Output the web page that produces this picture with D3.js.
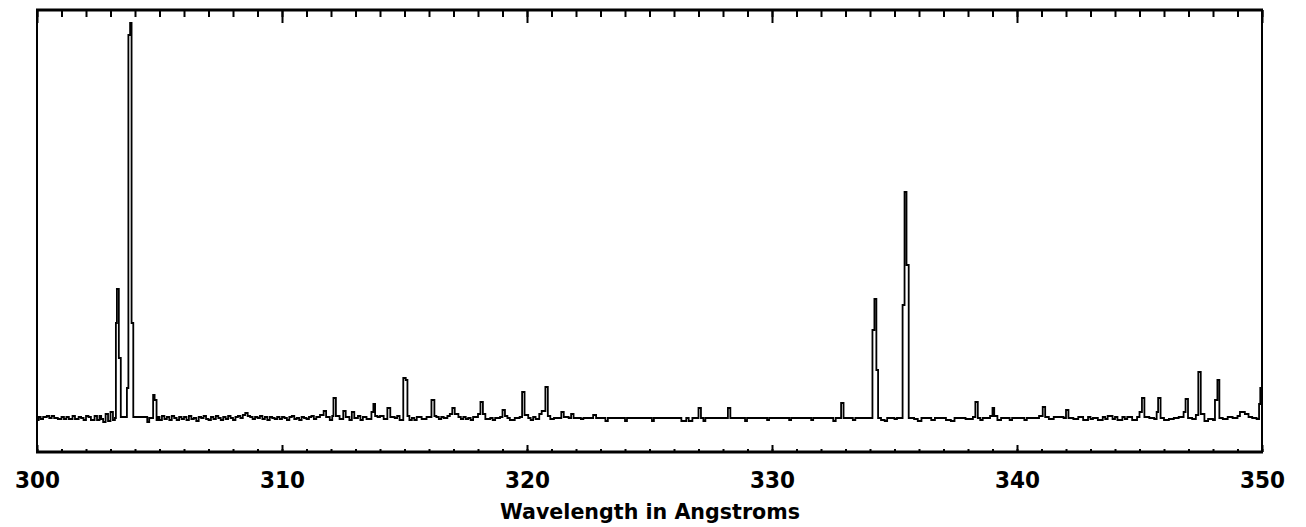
<!DOCTYPE html>
<html>
<head>
<meta charset="utf-8">
<script src="https://cdn.jsdelivr.net/npm/d3@7"></script>
<style>
  body { margin: 0; background: #fff; }
  svg { display: block; }
  .lbl text { font-family: "DejaVu Sans", sans-serif; font-weight: bold; fill: #000; }
</style>
</head>
<body>
<svg id="spectrum" width="1306" height="527"></svg>
<script>
// intensities in arbitrary units (step profile)
const spec300 = [
  [300.0,16],[300.07,17.5],[300.15,16.5],[300.25,17.5],[300.4,18],[300.5,17],[300.6,18],[300.7,17],[300.85,16.5],[301.0,17.5],
  [301.1,16.5],[301.2,17.5],[301.3,16.5],[301.45,18],[301.55,16.5],[301.7,17.5],[301.8,17],[301.9,16],[302.0,18],[302.1,17.5],[302.2,16],
  [302.35,18],[302.45,16],[302.55,18],[302.62,16.5],[302.7,15],[302.8,19],[302.9,15.5],[303.0,20],[303.1,16],[303.18,17],
  [303.22,64.5],[303.26,81.5],[303.34,47],[303.42,17.5],
  [303.67,32],[303.73,208.5],[303.8,214.5],[303.86,64.5],[303.93,17.5],
  [304.5,15],[304.58,17],[304.74,28.5],[304.8,26],[304.88,16],[304.95,17.5]
];
const spec305 = [
  [305.0,16],[305.1,18],[305.2,16.5],[305.3,17.5],[305.4,16],[305.5,18],[305.6,17],[305.7,16],[305.8,17.5],[305.9,16.5],
  [306.0,17.5],[306.1,16],[306.2,18],[306.3,16.5],[306.4,17],[306.5,15.5],[306.6,17.5],[306.7,17],[306.8,18],[306.9,16.5],
  [307.0,16],[307.1,17.5],[307.2,16.5],[307.3,18],[307.4,17],[307.5,16],[307.6,17.5],[307.7,16.5],[307.8,18],[307.9,17],
  [308.0,16],[308.1,17.5],[308.2,18],[308.3,17],[308.4,18.5],[308.5,19.5],[308.6,18],[308.7,17.5],[308.8,16.5],[308.9,17.5],
  [309.0,17],[309.1,18],[309.2,16.5],[309.3,17.5],[309.4,16],[309.5,17.5],[309.6,17],[309.7,16.5],[309.8,17.5],[309.9,16.5],
  [310.0,17.5],[310.1,17],[310.2,16],[310.3,17.5],[310.4,18],[310.5,16.5],[310.6,17],[310.7,16],[310.8,17.5],[310.9,17],
  [311.0,16.5],[311.1,17.5],[311.2,18],[311.3,16.5],[311.4,17.5],[311.55,18.5]
];
const spec311 = [
  [311.7,20.5],[311.8,17.5],[311.95,16],[312.05,18],[312.1,27],[312.2,18],[312.35,16.5],[312.5,20.5],[312.6,17.5],
  [312.75,16],[312.85,20],[312.95,17],[313.1,18],[313.2,16],[313.3,17.5],[313.45,16.5],[313.65,20],[313.73,24],
  [313.8,18],[313.9,17.5],[314.0,18],[314.15,16.5],[314.3,22],[314.42,17.5],[314.6,17],[314.7,18],[314.8,16],[314.95,37],
  [315.05,36],[315.12,18],[315.2,16],[315.3,17],[315.4,16],[315.5,17.5],[315.7,16.5],[315.9,17.5],[316.1,26],[316.22,18],
  [316.3,17.5],[316.4,16.5],[316.5,17.5],[316.6,17],[316.75,18],[316.85,19],[316.95,22],[317.05,19],[317.2,17.5],[317.3,16.5],
  [317.4,17.5],[317.5,16.5],[317.6,17],[317.7,16],[317.8,17.5],[318.0,19],[318.1,25],[318.2,19],[318.3,16.5],[318.5,17],[318.6,16],
  [318.7,17],[318.9,17.5],[319.0,21],[319.1,18],[319.2,17],[319.3,16],[319.5,17],[319.7,17.5],[319.8,30],[319.9,18.5],
  [320.05,17],[320.15,16],[320.25,17.5],[320.35,16.5],[320.5,19],[320.6,20.5],[320.75,32.5],[320.85,18],[320.95,16.5],[321.1,17],
  [321.4,20],[321.5,17.5],[321.7,17],[321.8,19],[321.9,17],[322.2,16.5],[322.3,17],[322.7,18.5],
  [322.82,17],[323.2,15.5],[323.3,17]
];
const spec324 = [
  [324.0,15.5],[324.08,17],[325.1,15.5],[325.18,17],[326.3,15.5],[326.5,17],[326.6,15.5],[326.75,17],
  [327.0,22],[327.1,17],[327.2,15.5],[327.28,17],[328.2,22],[328.3,17],[328.9,15.5],[328.98,17],
  [329.8,16],[329.88,17],[330.7,16],[330.78,17],[331.6,16],[331.68,17],[332.5,15.5],[332.6,17],
  [332.82,24.5],[332.92,17],[333.3,16],[333.4,17],
  [334.1,61],[334.18,76.5],[334.26,41],[334.33,17],[334.45,16],[334.6,15.5],[334.7,17],[335.0,16.5],[335.1,17],
  [335.33,73.5],[335.41,130],[335.49,93.5],[335.58,17],[335.8,16.5],[335.95,15.5],[336.1,17],
  [336.5,16],[336.65,17],[337.1,16],[337.3,15.5],[337.45,17],[337.9,16.5],[338.2,17.5],[338.3,25],
  [338.4,17],[338.5,16],[338.6,17],[338.9,18],[339.0,22],[339.07,18],[339.2,16],[339.35,17],
  [339.7,16],[339.8,17]
];
const spec340 = [
  [340.3,16],[340.4,17],[340.9,18],[341.05,22.5],[341.15,17.5],[341.3,16.5],[341.5,17.5],[341.9,17],
  [342.0,21],[342.1,17],[342.3,16.5],[342.5,17.5],[342.7,16],[342.9,17.5],[343.0,16.5],[343.1,17],[343.3,16],
  [343.5,17.5],[343.6,16.5],[343.7,18],[343.9,16.5],[344.0,17.5],[344.1,16],[344.3,17.5],[344.4,16.5],[344.5,17.5],[344.7,16],
  [344.9,17.5],[345.0,20],[345.1,27],[345.2,17.5],[345.4,17],[345.6,16.5],[345.7,20],[345.76,27],[345.86,17],
  [346.0,16],[346.2,16.5],[346.4,17],[346.6,17.5],[346.8,20],[346.88,26.5],[346.98,17],[347.15,16.5],
  [347.3,18.5],[347.4,40],[347.5,19],[347.65,15.5],[347.8,16.5],[348.0,16],[348.08,26],[348.18,36],
  [348.26,17],[348.4,16.5],[348.6,17.5],[348.8,17],[349.0,18],[349.1,20],[349.3,19],[349.45,17.5],
  [349.6,17],[349.78,16.5],[349.88,24],[349.93,32],[350.0,32]
];
const majorTicks = [300, 310, 320, 330, 340, 350];
const xTitle = "Wavelength in Angstroms";

const svg = d3.select("#spectrum");
const plot = {left: 37, right: 1262, top: 10, bottom: 452};

const x = d3.scaleLinear().domain([300, 350]).range([plot.left, plot.right]);
const y = d3.scaleLinear().domain([0, 221]).range([plot.bottom, plot.top]);

const spectrum = [].concat(spec300, spec305, spec311, spec324, spec340);

const line = d3.line()
    .x(d => x(d[0]))
    .y(d => y(d[1]))
    .curve(d3.curveStepAfter);

svg.append("path")
    .datum(spectrum)
    .attr("d", line)
    .attr("fill", "none")
    .attr("stroke", "#000")
    .attr("stroke-width", 1.8);

const minorTicks = d3.range(300, 351, 1);

// ticks point into the plot on both horizontal axes
const drawTicks = function(axisFn, yPos, values, size, width) {
    const g = svg.append("g")
        .attr("transform", `translate(0,${yPos})`)
        .call(axisFn(x).tickValues(values).tickSize(size).tickFormat(""));
    g.select(".domain").remove();
    g.selectAll("line").attr("stroke", "#000").attr("stroke-width", width);
};
drawTicks(d3.axisBottom, plot.top, minorTicks, 7, 2);
drawTicks(d3.axisBottom, plot.top, majorTicks, 13, 2);
drawTicks(d3.axisTop, plot.bottom, minorTicks, 3, 2);
drawTicks(d3.axisTop, plot.bottom, majorTicks, 7, 2);

// frame
svg.append("line").attr("x1", plot.left - 1).attr("x2", plot.right + 1)
    .attr("y1", plot.top).attr("y2", plot.top)
    .attr("stroke", "#000").attr("stroke-width", 3);
svg.append("line").attr("x1", plot.left - 1).attr("x2", plot.right + 1)
    .attr("y1", plot.bottom).attr("y2", plot.bottom)
    .attr("stroke", "#000").attr("stroke-width", 3);
svg.append("line").attr("x1", plot.left).attr("x2", plot.left)
    .attr("y1", plot.top).attr("y2", plot.bottom)
    .attr("stroke", "#000").attr("stroke-width", 2);
svg.append("line").attr("x1", plot.right).attr("x2", plot.right)
    .attr("y1", plot.top).attr("y2", plot.bottom)
    .attr("stroke", "#000").attr("stroke-width", 2);

// tick labels
const labels = svg.append("g")
    .attr("class", "lbl")
    .attr("transform", `translate(0,${plot.bottom})`)
    .call(d3.axisBottom(x).tickValues(majorTicks).tickSize(0).tickPadding(20).tickFormat(d3.format("d")));
labels.select(".domain").remove();
labels.selectAll("text")
    .attr("font-size", 23)
    .attr("textLength", 45)
    .attr("lengthAdjust", "spacingAndGlyphs");

svg.append("g").attr("class", "lbl")
  .append("text")
    .attr("x", (plot.left + plot.right) / 2 + 0.5)
    .attr("y", 519)
    .attr("text-anchor", "middle")
    .attr("font-size", 21)
    .attr("textLength", 300)
    .attr("lengthAdjust", "spacingAndGlyphs")
    .text(xTitle);
</script>
</body>
</html>
